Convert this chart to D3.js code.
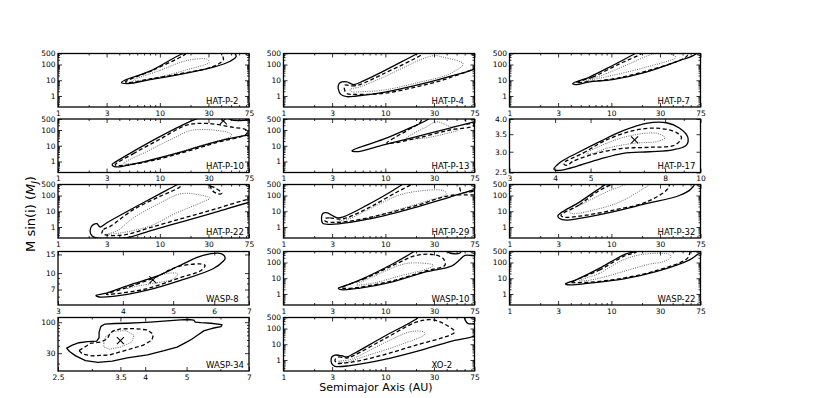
<!DOCTYPE html>
<html><head><meta charset="utf-8">
<script src="https://cdn.jsdelivr.net/npm/d3@7"></script>
<style>body{margin:0;background:#fff;}svg{display:block;}text{font-family:"DejaVu Sans",sans-serif;}</style>
</head><body><svg id="c" width="830" height="398"></svg>
<script>
// ---------- tick values / labels ----------
const stdXTicks = [1, 3, 10, 30, 75];
const stdYTicks = [1, 10, 100, 500];
const hatp17XTicks = [3, 4, 5, 8, 10];
const hatp17YTicks = [2.5, 3.0, 3.5, 4.0];
const hatp17YLabels = ["2.5", "3.0", "3.5", "4.0"];
const wasp8XTicks = [3, 4, 5, 6, 7];
const wasp8YTicks = [7, 10, 15];
const wasp34XTicks = [2.5, 3.5, 4, 5, 7];
const wasp34YTicks = [30, 100];
const panelNames = ["HAT-P-2","HAT-P-4","HAT-P-7","HAT-P-10","HAT-P-13","HAT-P-17","HAT-P-22","HAT-P-29","HAT-P-32","WASP-8","WASP-10","WASP-22","WASP-34","XO-2"];

// ---------- contours: [a (AU), M sin i (MJ)] ----------
const hatp2Solid = [[4.2,7.1],[4.6,10.5],[8.0,38],[16.4,464],[23,950],[52.7,590],[56,316],[49,162],[33.6,68],[15.8,23.7],[8.0,11],[4.9,6.2]];
const hatp2Dashed = [[4.6,7.9],[8.7,46],[17.1,383],[20,800],[38,800],[41.5,316],[42,195],[33.6,75],[15.8,26],[8.0,12],[4.9,7.1]];
const hatp2Dotted = [[5.5,10],[10,42],[18.4,178],[29,215],[30.6,140],[18.4,46],[9.3,14.7],[5.95,9.1]];

const hatp4Solid = [[3.6,7.1],[4.17,7.9],[4.86,5.35],[6.1,9.1],[9.6,38],[20.3,464],[27.4,1200],[93,1200],[84.6,87],[43,17.8],[20.3,4.9],[9.6,1.7],[5.2,1.0],[4.17,0.91],[3.65,1.27],[3.46,2.6],[3.46,4.9]];
const hatp4Dashed = [[4.0,4.9],[4.7,4.4],[5.65,5.35],[9.6,26],[21.9,363],[26,800],[70,800],[73,363],[84.6,110],[43,14.7],[20.3,3.8],[9.6,1.47],[5.2,1.27],[4.17,1.47],[3.97,2.6]];
const hatp4Dotted = [[4.5,2.6],[5.65,3.8],[9.6,16],[29.5,363],[37,287],[58,110],[43,26],[20.3,6.8],[9.6,2.37],[5.65,1.87],[4.7,1.87]];

const hatp7Solid = [[4.17,6.2],[6.1,16],[10.3,87],[16.8,464],[21.9,1200],[73,1200],[67.5,464],[46.5,178],[21.9,33],[10.3,11],[6.1,8],[4.5,5.35]];
const hatp7Dashed = [[4.5,7.1],[6.55,16],[12,110],[19.5,464],[22,800],[52,800],[56,400],[50,225],[21.9,38],[10.3,12],[5.65,7.9]];
const hatp7Dotted = [[5.65,9.1],[8.9,26],[15,110],[26,464],[37,480],[43,287],[21.9,68],[10.3,20.5],[6.55,11]];

const hatp10Solid = [[3.4,0.65],[3.65,0.91],[5.5,4.4],[10,38],[21.3,420],[29,800],[45,800],[50,440],[75,420],[90,420],[90,48],[75.5,48],[36,18.6],[17.1,4.4],[8,1.2],[4.75,0.56],[3.65,0.46]];
const hatp10Dashed = [[3.65,0.62],[5.5,3.16],[10,26],[18.4,205],[29,260],[52.7,147],[71,100],[71,56],[36,16],[17.1,3.8],[8,1.05],[4.4,0.56]];
const hatp10Dotted = [[4.4,0.75],[7.5,4.4],[13.6,30],[21.3,100],[49,62],[50.5,44],[24.8,10],[11.7,2.37],[6.4,0.82]];
const hatp10Best = [42, 380];

const hatp13Solid = [[4.7,4.9],[9.6,26],[16.2,110],[25.4,420],[30,900],[90,900],[90,400],[75.6,330],[43,133],[20.3,38],[9.6,11.5],[5.2,4.2]];
const hatp13Dashed = [[10.3,14.7],[13,40],[16.2,90],[21.9,300],[24,800],[60,800],[62,250],[73,260],[73,180],[43,100],[20.3,30],[11.1,14]];
const hatp13Dotted = [[16.2,30],[25.4,162],[31.9,330],[43,162],[52,100],[43,68],[23.6,30]];

const hatp17Solid = [[3.97,2.58],[4.05,2.67],[4.17,2.76],[4.58,2.96],[5.3,3.28],[6.14,3.61],[7.1,3.85],[8.07,3.87],[8.77,3.69],[9.23,3.41],[9.15,3.18],[8.4,3.05],[7.25,3.0],[6.14,2.96],[5.3,2.81],[4.58,2.64],[4.22,2.56],[4.0,2.55]];
const hatp17Dashed = [[4.22,2.71],[4.78,2.97],[5.53,3.33],[6.54,3.61],[7.58,3.69],[8.6,3.55],[8.87,3.39],[8.5,3.18],[7.25,3.12],[6.14,3.09],[5.2,2.96],[4.48,2.76],[4.3,2.66]];
const hatp17Dotted = [[4.88,2.96],[5.53,3.23],[6.4,3.45],[7.58,3.53],[8.0,3.39],[7.58,3.28],[6.54,3.23],[5.53,3.09],[5.0,2.94]];
const hatp17Best = [6.6, 3.33];

const hatp22Solid = [[2.24,1.47],[2.41,1.61],[2.6,1.0],[3.02,1.87],[5.5,16],[10,127],[14.6,464],[18.4,950],[90,950],[90,42],[75.6,36.5],[36,9.2],[17.1,2.3],[8,0.57],[4.75,0.21],[3.02,0.19],[2.32,0.21],[2.1,0.35],[2.1,0.91]];
const hatp22Dashed = [[2.7,0.44],[2.8,0.7],[3.26,1.1],[5.5,12.7],[10,87],[15.8,363],[17,750],[28,750],[30,450],[34,330],[40.6,140],[37.6,127],[33,200],[31,750],[90,750],[90,60],[75.6,58],[36,14.7],[17.1,3.7],[8,0.91],[4.75,0.34],[3.02,0.3],[2.7,0.4]];
const hatp22Dotted = [[3.02,0.35],[3.79,0.56],[5.5,3.8],[10,33],[15.8,127],[21.3,127],[31,68],[27,42],[14.6,7.9],[8,1.15],[4.75,0.49],[3.26,0.35]];

const hatp29Solid = [[2.43,7.1],[2.7,7.9],[2.98,5.6],[3.4,3.8],[3.87,4.4],[6.55,23.7],[11.1,162],[15,535],[18.8,1000],[90,1000],[90,287],[84.6,287],[43,79],[20.3,18.6],[9.6,5.1],[4.5,1.96],[2.87,1.47],[2.43,1.7],[2.36,3.5]];
const hatp29Dashed = [[2.56,3.5],[2.87,3.8],[3.54,3.16],[4.17,3.8],[7.1,18.6],[12.9,162],[18.8,535],[23.6,860],[50,860],[53,420],[56,162],[84.6,195],[84.6,130],[43,100],[20.3,23.7],[9.6,6.5],[4.5,2.37],[2.87,2.0],[2.56,2.4]];
const hatp29Dotted = [[3.33,2.15],[4.5,3.5],[8.2,23.7],[13.9,110],[23.6,205],[37,205],[40,127],[23.6,38],[11.1,9.1],[5.65,2.7],[3.87,1.96]];

const hatp32Solid = [[2.98,5.1],[3.2,7.9],[4.86,38],[7.1,205],[8.9,535],[10,1000],[67.5,1000],[60.5,260],[46.5,100],[21.9,30],[10.3,9.1],[4.86,3.5],[3.6,2.7],[3.1,3.5]];
const hatp32Dashed = [[3.2,5.6],[4.86,26],[7.6,205],[10.3,535],[12,900],[35,900],[37,535],[35.7,260],[21.9,38],[10.3,11.5],[4.86,4.9],[3.46,4.2]];
const hatp32Dotted = [[3.87,9.1],[5.65,38],[9.6,205],[13.9,535],[15,900],[22,900],[23.6,535],[20.3,260],[12,38],[6.55,11.5],[4.17,7.1]];

const wasp8Solid = [[3.55,6.15],[3.72,6.47],[4.13,7.76],[4.64,9.3],[5.15,11.8],[5.71,14.7],[6.2,15.2],[6.3,13.9],[6.25,13],[5.97,11],[5.15,8.5],[4.44,6.86],[3.83,6.02],[3.6,5.95]];
const wasp8Dashed = [[3.72,6.3],[4.13,7.48],[4.64,9.2],[5.07,11.4],[5.63,12.2],[5.76,11.8],[5.66,10.6],[5.15,9.04],[4.44,7.11],[3.89,6.4]];
const wasp8Dotted = [[4.07,7.1],[4.44,8.65],[4.92,10],[5.1,9.86],[5.0,8.8],[4.5,7.9],[4.13,7.3]];
const wasp8Best = [4.57, 8.65];

const wasp10Solid = [[3.46,2.37],[3.87,3.0],[5.65,7.9],[12,87],[18.8,464],[21.9,870],[38.5,870],[41.5,440],[54,400],[57.5,870],[84.6,870],[84.6,287],[60.5,287],[54,154],[44.5,59],[25.4,26],[12,6.2],[5.65,2.37],[3.73,1.87]];
const wasp10Dashed = [[3.73,2.6],[6.1,8.7],[12,68],[20.3,287],[29.5,316],[37,178],[38.5,68],[25.4,30],[12,7.1],[5.65,2.7],[4.17,2.26]];
const wasp10Dotted = [[5.2,3.8],[8.2,16],[13.9,68],[18.8,95],[29.5,68],[26.4,42],[13.9,14],[7.6,4.9]];

const wasp22Solid = [[3.54,4.4],[4.5,7.9],[7.6,42],[12.9,287],[15,400],[17.5,500],[20,900],[90,900],[90,400],[73,363],[58,140],[27.4,26],[12.9,8.7],[6.1,4.9],[3.87,3.8]];
const wasp22Dashed = [[4.0,5.35],[7.6,33],[13.9,287],[17.5,464],[18,1000],[58,1000],[58,287],[54,154],[27.4,30],[12.9,10],[6.1,5.6],[4.17,5.35]];
const wasp22Dotted = [[4.86,7.1],[7.6,20.5],[12.9,140],[20.3,330],[37,330],[38.5,225],[31.9,110],[23.6,79],[12.9,26],[7.6,10],[5.65,7.1]];

const wasp34Solid = [[2.62,36.5],[2.7,41],[2.8,45],[2.93,47],[3.08,48],[3.12,55],[3.12,68],[3.15,85],[3.22,93],[3.4,95],[3.63,96],[3.9,98],[4.11,100],[4.5,105],[4.84,109],[5.05,111],[5.2,108],[5.24,100],[5.4,98],[5.7,96],[6.05,91],[6.02,84],[5.75,79],[5.5,72],[5.3,60],[5.15,52],[5.0,46],[4.75,38],[4.43,33],[4.05,28],[3.63,25],[3.35,22],[3.1,21],[2.9,22.5],[2.75,27],[2.66,32]];
const wasp34Dashed = [[2.8,33.3],[2.92,40],[2.97,44],[3.14,46],[3.26,52],[3.3,62],[3.36,71],[3.5,77],[3.77,78],[4.05,74],[4.18,62],[4.15,50],[3.96,41],[3.63,34],[3.3,28],[3.0,27],[2.85,29]];
const wasp34Dotted = [[3.2,44],[3.23,57],[3.37,70],[3.6,72],[3.77,60],[3.72,46],[3.5,38],[3.3,35],[3.2,38]];
const wasp34Best = [3.5, 49];

const xo2Solid = [[2.98,1.55],[3.2,2.05],[3.73,1.87],[4.17,1.55],[4.86,2.48],[9.6,30],[20.3,420],[23.6,1000],[58,1000],[60.5,363],[65,205],[83,195],[83,48],[43,14.7],[20.3,3.5],[9.6,1.05],[4.5,0.44],[3.2,0.4],[2.98,0.59],[2.93,1.0]];
const xo2Dashed = [[3.2,1.0],[3.46,1.55],[4.17,1.33],[4.86,1.87],[9.6,20.5],[20.3,260],[27.4,363],[34.4,260],[48,62],[43,38],[20.3,9.1],[9.6,2.15],[4.5,0.7],[3.33,0.65]];
const xo2Dotted = [[3.46,0.82],[4.5,1.05],[9.6,11.5],[17.5,62],[23.6,62],[24.5,44],[13.9,9.1],[6.55,1.87],[4.0,0.7]];

// ---------- axis definitions ----------
const axes = {
  std:    {xDomain:[1,75],  xTicks:stdXTicks,   xLabels:stdXTicks.map(String),   yDomain:[0.2,500], yTicks:stdYTicks,   yLabels:stdYTicks.map(String), yMinor:true},
  hatp17: {xDomain:[3,10],  xTicks:hatp17XTicks,xLabels:hatp17XTicks.map(String),yDomain:[2.5,4.0], yTicks:hatp17YTicks,yLabels:hatp17YLabels, yMinor:false},
  wasp8:  {xDomain:[3,7],   xTicks:wasp8XTicks, xLabels:wasp8XTicks.map(String), yDomain:[5,16],    yTicks:wasp8YTicks, yLabels:wasp8YTicks.map(String), yMinor:true},
  wasp34: {xDomain:[2.5,7], xTicks:wasp34XTicks,xLabels:wasp34XTicks.map(String),yDomain:[15,120],  yTicks:wasp34YTicks,yLabels:wasp34YTicks.map(String), yMinor:true}
};

const panels = [
  {name:panelNames[0], col:0,row:0,axis:"std",   solid:hatp2Solid, dashed:hatp2Dashed, dotted:hatp2Dotted},
  {name:panelNames[1], col:1,row:0,axis:"std",   solid:hatp4Solid, dashed:hatp4Dashed, dotted:hatp4Dotted},
  {name:panelNames[2], col:2,row:0,axis:"std",   solid:hatp7Solid, dashed:hatp7Dashed, dotted:hatp7Dotted},
  {name:panelNames[3], col:0,row:1,axis:"std",   solid:hatp10Solid,dashed:hatp10Dashed,dotted:hatp10Dotted,best:hatp10Best},
  {name:panelNames[4], col:1,row:1,axis:"std",   solid:hatp13Solid,dashed:hatp13Dashed,dotted:hatp13Dotted},
  {name:panelNames[5], col:2,row:1,axis:"hatp17",solid:hatp17Solid,dashed:hatp17Dashed,dotted:hatp17Dotted,best:hatp17Best},
  {name:panelNames[6], col:0,row:2,axis:"std",   solid:hatp22Solid,dashed:hatp22Dashed,dotted:hatp22Dotted},
  {name:panelNames[7], col:1,row:2,axis:"std",   solid:hatp29Solid,dashed:hatp29Dashed,dotted:hatp29Dotted},
  {name:panelNames[8], col:2,row:2,axis:"std",   solid:hatp32Solid,dashed:hatp32Dashed,dotted:hatp32Dotted},
  {name:panelNames[9], col:0,row:3,axis:"wasp8", solid:wasp8Solid, dashed:wasp8Dashed, dotted:wasp8Dotted,best:wasp8Best},
  {name:panelNames[10],col:1,row:3,axis:"std",   solid:wasp10Solid,dashed:wasp10Dashed,dotted:wasp10Dotted},
  {name:panelNames[11],col:2,row:3,axis:"std",   solid:wasp22Solid,dashed:wasp22Dashed,dotted:wasp22Dotted},
  {name:panelNames[12],col:0,row:4,axis:"wasp34",solid:wasp34Solid,dashed:wasp34Dashed,dotted:wasp34Dotted,best:wasp34Best,jagged:true},
  {name:panelNames[13],col:1,row:4,axis:"std",   solid:xo2Solid,   dashed:xo2Dashed,   dotted:xo2Dotted}
];

// ---------- layout ----------
const colLeft = [58, 283.5, 509.5];
const rowTop = [53.5, 119, 184.5, 251.5, 317.5];
const PW = 191, PH = 53.5;
const svg = d3.select("#c");
const defs = svg.append("defs");

function minorTicks(domain, majors) {
  const out = [];
  const lo = Math.floor(Math.log10(domain[0])), hi = Math.ceil(Math.log10(domain[1]));
  for (let n = lo; n <= hi; n++) for (let k = 1; k <= 9; k++) {
    const v = +(k * Math.pow(10, n)).toPrecision(6);
    if (v > domain[0] && v < domain[1] && !majors.some(m => Math.abs(m - v) < 1e-9)) out.push(v);
  }
  return out;
}

function styleAxis(g, fs) {
  g.select(".domain").remove();
  g.selectAll("line").attr("stroke", "#000").attr("stroke-width", 0.8);
  g.selectAll("text").attr("font-size", fs).attr("font-family", "DejaVu Sans, sans-serif").attr("fill", "#000");
}

panels.forEach((p, i) => {
  const ax = axes[p.axis];
  const x0 = colLeft[p.col], y0 = rowTop[p.row];
  const x = d3.scaleLog().domain(ax.xDomain).range([x0, x0 + PW]);
  const y = d3.scaleLog().domain(ax.yDomain).range([y0 + PH, y0]);
  const g = svg.append("g");
  const cid = "clip" + i;
  defs.append("clipPath").attr("id", cid).append("rect").attr("x", x0).attr("y", y0).attr("width", PW).attr("height", PH);
  const cg = g.append("g").attr("clip-path", `url(#${cid})`);
  const curve = p.jagged ? d3.curveLinearClosed : d3.curveCatmullRomClosed.alpha(0.5);
  const line = d3.line().x(d => x(d[0])).y(d => y(d[1])).curve(curve);
  cg.append("path").attr("d", line(p.dotted)).attr("fill", "none").attr("stroke", "#555").attr("stroke-width", 0.9).attr("stroke-dasharray", "1,1.3");
  cg.append("path").attr("d", line(p.dashed)).attr("fill", "none").attr("stroke", "#000").attr("stroke-width", 1.3).attr("stroke-dasharray", "4,2.5");
  cg.append("path").attr("d", line(p.solid)).attr("fill", "none").attr("stroke", "#000").attr("stroke-width", 1.3).attr("stroke-linejoin", "round");
  if (p.best) {
    const bx = x(p.best[0]), by = y(p.best[1]), s = 3.5;
    cg.append("path").attr("d", `M${bx-s},${by-s}L${bx+s},${by+s}M${bx-s},${by+s}L${bx+s},${by-s}`).attr("stroke", "#000").attr("stroke-width", 1.1);
  }
  // axes (inward ticks on all sides)
  const xMin = minorTicks(ax.xDomain, ax.xTicks);
  const yMin = ax.yMinor ? minorTicks(ax.yDomain, ax.yTicks) : [];
  const bottom = g.append("g").attr("transform", `translate(0,${y0 + PH})`)
    .call(d3.axisBottom(x).tickValues(ax.xTicks).tickSize(-4).tickPadding(3.2).tickFormat((d, j) => ax.xLabels[j]));
  styleAxis(bottom, 7.5);
  const left = g.append("g").attr("transform", `translate(${x0},0)`)
    .call(d3.axisLeft(y).tickValues(ax.yTicks).tickSize(-4).tickPadding(2.5).tickFormat((d, j) => ax.yLabels[j]));
  styleAxis(left, 7.5);
  [[d3.axisBottom, y0 + PH, true], [d3.axisTop, y0, true], [d3.axisLeft, x0, false], [d3.axisRight, x0 + PW, false]].forEach(([fn, pos, isX]) => {
    const sc = isX ? x : y;
    const tr = isX ? `translate(0,${pos})` : `translate(${pos},0)`;
    if (fn === d3.axisTop || fn === d3.axisRight) {
      const a1 = g.append("g").attr("transform", tr).call(fn(sc).tickValues(isX ? ax.xTicks : ax.yTicks).tickSize(-4).tickFormat(""));
      styleAxis(a1, 7.5);
    }
    const a2 = g.append("g").attr("transform", tr).call(fn(sc).tickValues(isX ? xMin : yMin).tickSize(-2).tickFormat(""));
    styleAxis(a2, 7.5);
  });
  g.append("rect").attr("x", x0).attr("y", y0).attr("width", PW).attr("height", PH).attr("fill", "none").attr("stroke", "#000").attr("stroke-width", 1.3);
  g.append("text").attr("x", x0 + 148).attr("y", y0 + PH - 3.5).attr("font-size", 8.5).attr("fill", "#000").text(p.name);
});

// axis titles
svg.append("text").attr("x", 376).attr("y", 391).attr("text-anchor", "middle").attr("font-size", 11).attr("fill", "#000").text("Semimajor Axis (AU)");
const yl = svg.append("text").attr("transform", "translate(35,214) rotate(-90)").attr("text-anchor", "middle").attr("font-size", 13).attr("fill", "#000");
yl.append("tspan").text("M sin(i) (");
yl.append("tspan").attr("font-style", "italic").text("M");
yl.append("tspan").attr("font-style", "italic").attr("font-size", 9).attr("dy", 3).text("J");
yl.append("tspan").attr("dy", -3).text(")");
</script>
</body></html>
